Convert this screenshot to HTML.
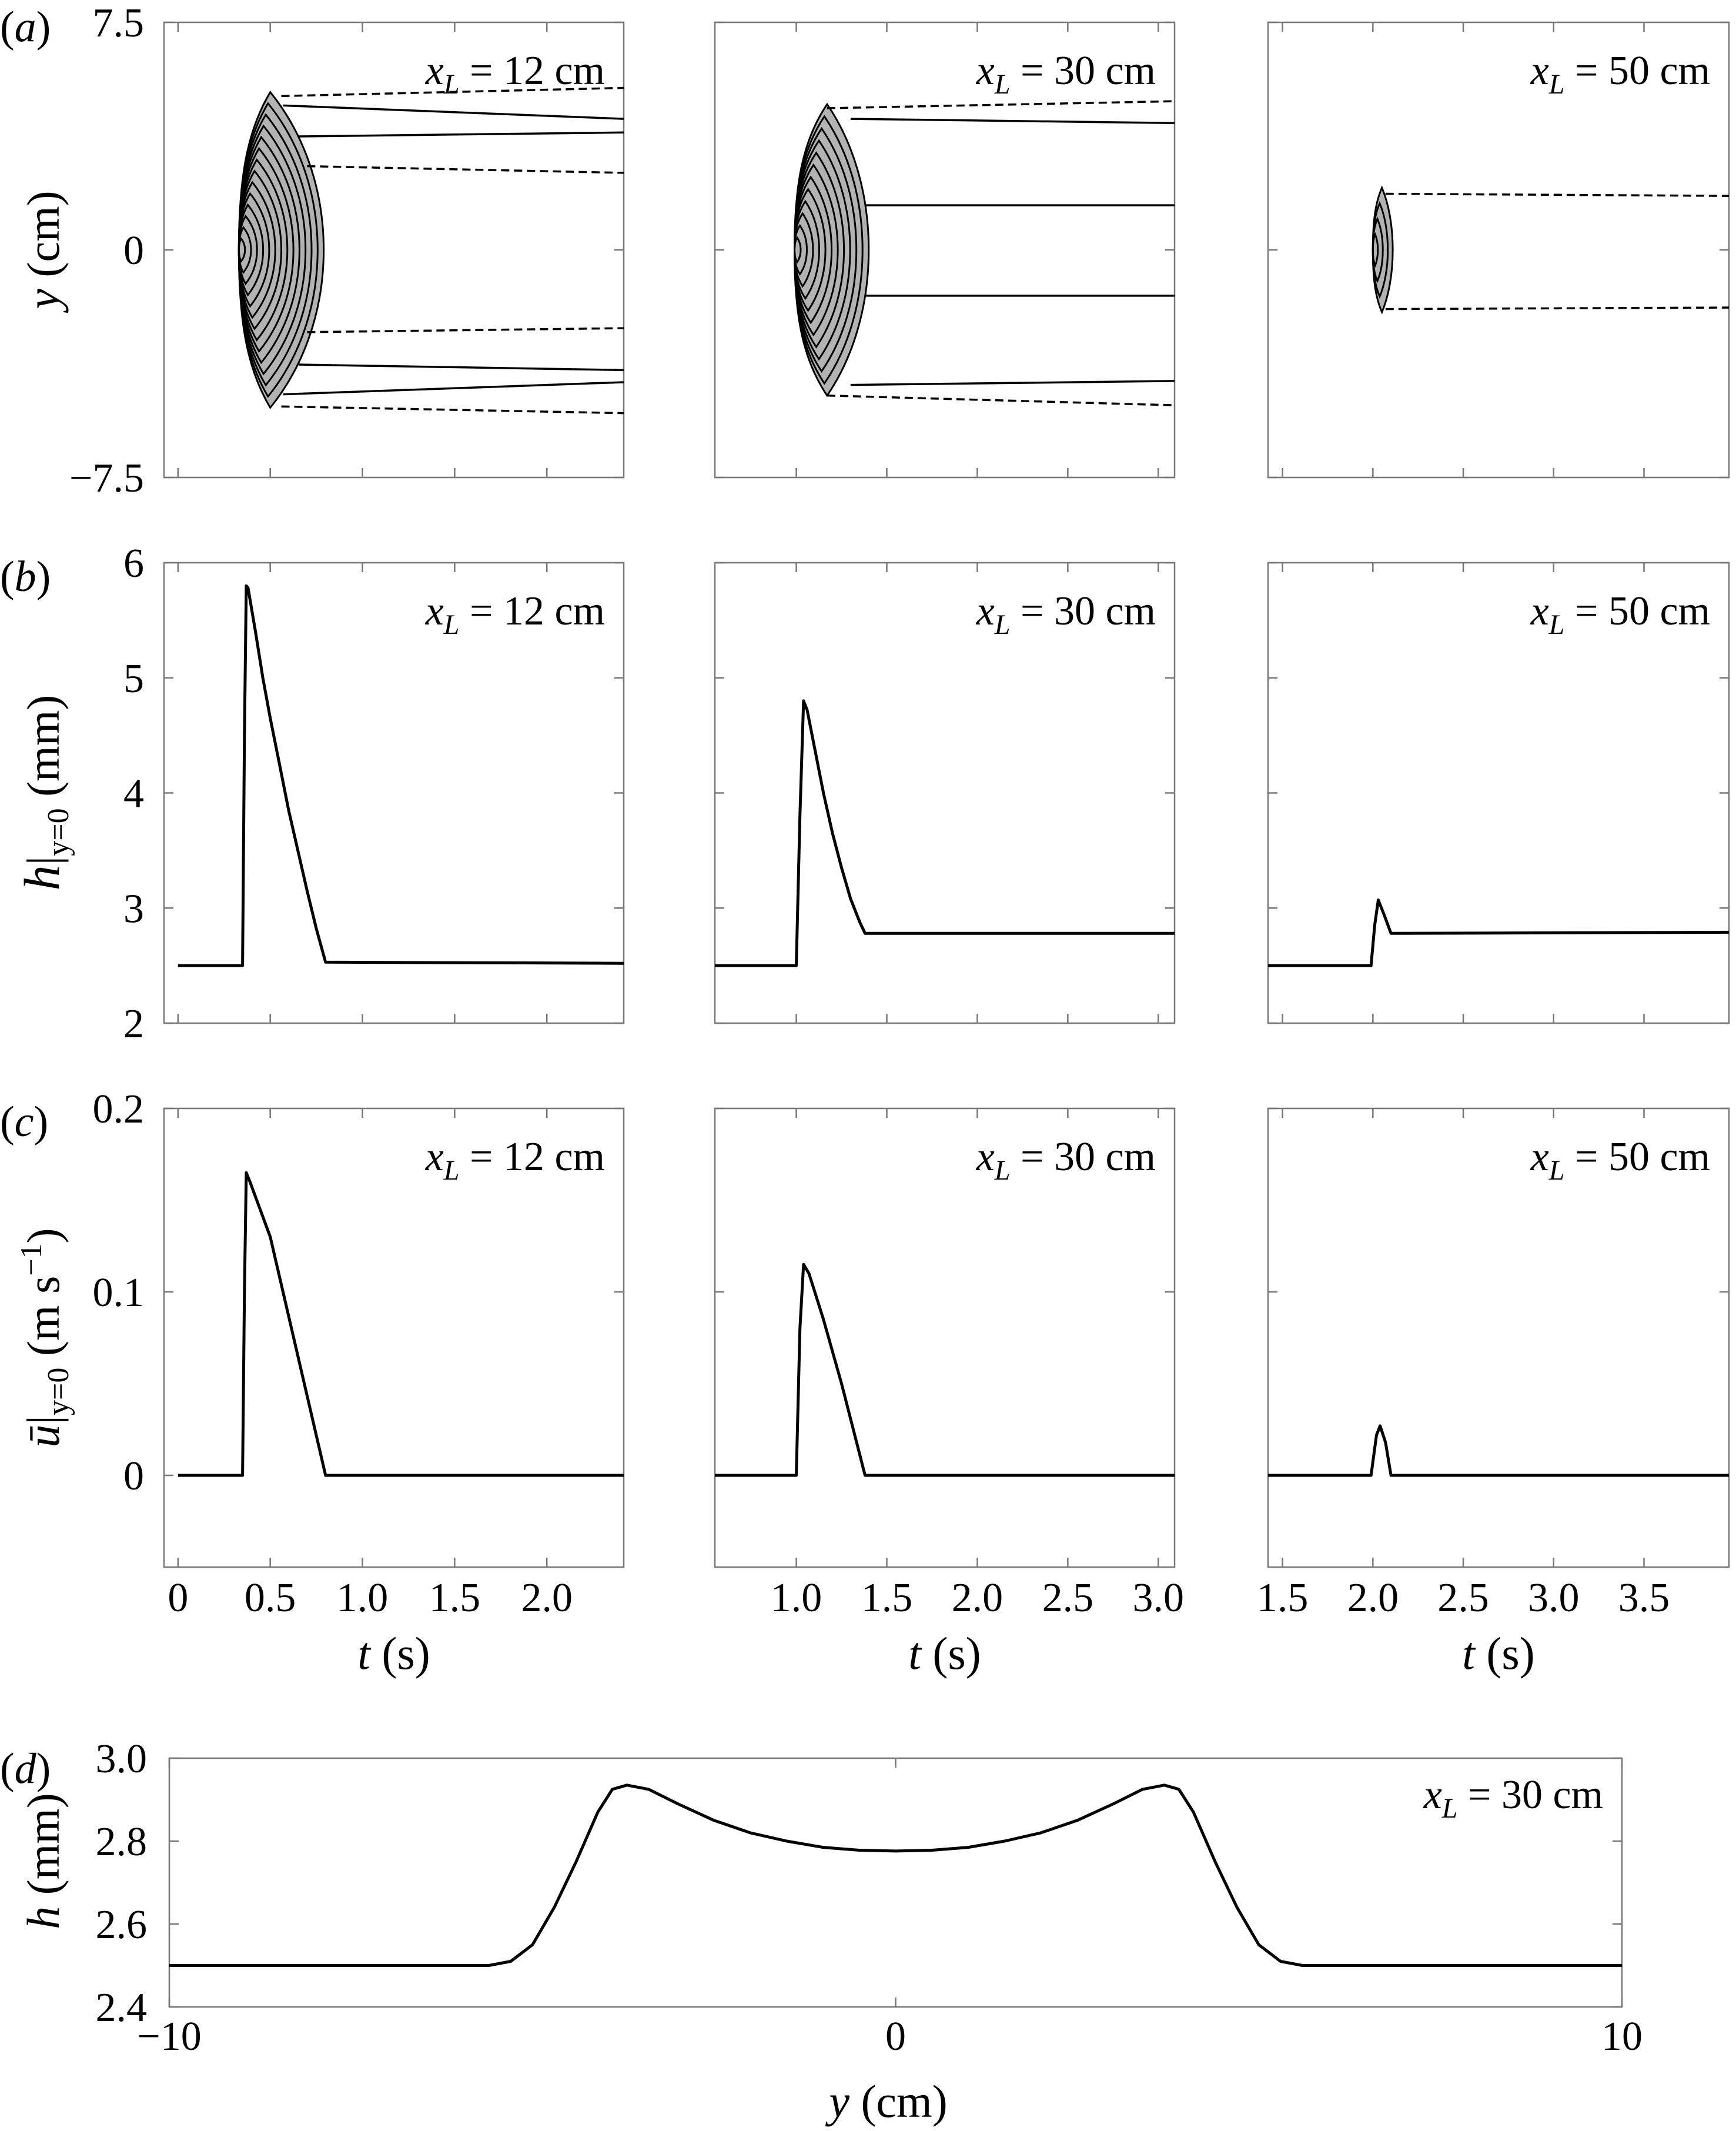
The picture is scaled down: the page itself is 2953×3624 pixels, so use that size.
<!DOCTYPE html>
<html><head><meta charset="utf-8"><style>
html,body{margin:0;padding:0;background:#fff}
svg{display:block}
text,tspan{font-family:"Liberation Serif","DejaVu Serif",serif;fill:#000}
</style></head><body>
<svg id="fig" width="2953" height="3624" viewBox="0 0 2953 3624" font-family="Liberation Serif, serif" xmlns="http://www.w3.org/2000/svg"></svg>
<script>
// ---- data ----
const colTimeDomains=[[-0.076,2.417],[0.55,3.09],[1.42,3.97]];
const colTicks=[[0,0.5,1,1.5,2],[1,1.5,2,2.5,3],[1.5,2,2.5,3,3.5]];
const colTickLabels=[["0","0.5","1.0","1.5","2.0"],["1.0","1.5","2.0","2.5","3.0"],["1.5","2.0","2.5","3.0","3.5"]];
const colValuesL=["12","30","50"];
// row b: h at y=0
const hT1=[0,0.35,0.36,0.37,0.38,0.42,0.46,0.5,0.55,0.6,0.65,0.7,0.75,0.8,2.417];
const hV1=[2.5,2.5,4.5,5.8,5.78,5.4,5.0,4.65,4.25,3.85,3.5,3.15,2.82,2.53,2.52];
const hT2=[0.55,1.0,1.02,1.04,1.06,1.1,1.15,1.2,1.25,1.3,1.35,1.38,3.09];
const hV2=[2.5,2.5,3.8,4.8,4.72,4.4,4.0,3.65,3.35,3.08,2.88,2.78,2.78];
const hT3=[1.42,1.99,2.01,2.03,2.06,2.1,3.97];
const hV3=[2.5,2.5,2.85,3.07,2.95,2.78,2.79];
// row c: u at y=0
const uT1=[0,0.35,0.36,0.37,0.39,0.5,0.8,2.417];
const uV1=[0,0,0.1,0.165,0.16,0.13,0,0];
const uT2=[0.55,1.0,1.02,1.04,1.07,1.15,1.25,1.38,3.09];
const uV2=[0,0,0.08,0.115,0.11,0.085,0.05,0,0];
const uT3=[1.42,1.99,2.02,2.04,2.07,2.1,3.97];
const uV3=[0,0,0.022,0.027,0.018,0,0];
// row d: h profile
const dY=[-10,-5.6,-5.3,-5.0,-4.7,-4.4,-4.1,-3.9,-3.7,-3.4,-3,-2.5,-2,-1.5,-1,-0.5,0,0.5,1,1.5,2,2.5,3,3.4,3.7,3.9,4.1,4.4,4.7,5.0,5.3,5.6,10];
const dH=[2.5,2.5,2.51,2.55,2.64,2.75,2.87,2.925,2.935,2.925,2.89,2.85,2.82,2.8,2.785,2.778,2.776,2.778,2.785,2.8,2.82,2.85,2.89,2.925,2.935,2.925,2.87,2.75,2.64,2.55,2.51,2.5,2.5];
// row a: blob [tLeft, tTop, tRight, halfHeight]
const blobs=[[0.33,0.50,0.79,5.2],[0.99,1.17,1.40,4.8],[2.0,2.05,2.11,2.05]];
const blobRings=[13,11,3];
// streamlines [tStart, yStart, yEnd, dashed]
const lines1=[[0.56,5.07,5.34,1],[0.57,4.76,4.32,0],[0.655,3.74,3.87,0],[0.70,2.76,2.54,1],[0.70,-2.71,-2.58,1],[0.655,-3.78,-3.96,0],[0.57,-4.76,-4.36,0],[0.56,-5.16,-5.38,1]];
const lines2=[[1.17,4.67,4.9,1],[1.3,4.32,4.18,0],[1.38,1.47,1.47,0],[1.38,-1.51,-1.51,0],[1.3,-4.45,-4.32,0],[1.17,-4.8,-5.12,1]];
const lines3=[[2.07,1.85,1.78,1],[2.07,-1.95,-1.9,1]];

// ---- layout ----
const svg=document.getElementById('fig');
const NS='http://www.w3.org/2000/svg';
const colX=[[279,1061],[1216,1998],[2157,2941]];
const rowY={a:[38,812],b:[957,1740],c:[1885,2665]};
function el(tag,attrs,parent){const e=document.createElementNS(NS,tag);for(const k in attrs)e.setAttribute(k,attrs[k]);(parent||svg).appendChild(e);return e;}
function lin(d0,d1,r0,r1){return v=>r0+(v-d0)/(d1-d0)*(r1-r0);}
function pathFrom(xs,ys,fx,fy){return xs.map((x,i)=>(i?'L':'M')+fx(x).toFixed(1)+' '+fy(ys[i]).toFixed(1)).join(' ');}

function frame(x0,x1,y0,y1,xt,yt,g){
  const r=el('rect',{x:x0,y:y0,width:x1-x0,height:y1-y0,fill:'none',stroke:'#777','stroke-width':2.5},g);
  
  
  xt.forEach(x=>{el('line',{x1:x,y1:y1,x2:x,y2:y1-16,stroke:'#777','stroke-width':2.5},g);el('line',{x1:x,y1:y0,x2:x,y2:y0+16,stroke:'#777','stroke-width':2.5},g);});
  yt.forEach(y=>{el('line',{x1:x0,y1:y,x2:x0+16,y2:y,stroke:'#777','stroke-width':2.5},g);el('line',{x1:x1,y1:y,x2:x1-16,y2:y,stroke:'#777','stroke-width':2.5},g);});
}
function annot(x,y,L,g){
  const t=el('text',{x:x,y:y,'text-anchor':'end','font-size':70},g);
  
  
  t.innerHTML='<tspan font-style="italic">x</tspan><tspan font-style="italic" font-size="48" dy="16">L</tspan><tspan dy="-16"> = '+L+'  cm</tspan>';
}

const rowKeys=['a','b','c'];
const rowYDom={a:[-7.5,7.5],b:[2,6],c:[-0.05,0.2]};
const rowYTicks={a:[-7.5,0,7.5],b:[2,3,4,5,6],c:[0,0.1,0.2]};
const rowYTickLabels={a:["\u22127.5","0","7.5"],b:["2","3","4","5","6"],c:["0","0.1","0.2"]};
const hTs=[hT1,hT2,hT3],hVs=[hV1,hV2,hV3],uTs=[uT1,uT2,uT3],uVs=[uV1,uV2,uV3],lineSets=[lines1,lines2,lines3];

rowKeys.forEach(rk=>{
  const [y0,y1]=rowY[rk];
  const fy=lin(rowYDom[rk][0],rowYDom[rk][1],y1,y0);
  for(let c=0;c<3;c++){
    const [x0,x1]=colX[c];
    const fx=lin(colTimeDomains[c][0],colTimeDomains[c][1],x0,x1);
    const g=el('g',{});
    
    
    frame(x0,x1,y0,y1,colTicks[c].map(fx),rowYTicks[rk].map(fy),g);
    if(c===0){
      rowYTicks[rk].forEach((v,i)=>{
        const t=el('text',{x:245,y:fy(v)+24,'text-anchor':'end','font-size':70},g);
        
        
        t.textContent=rowYTickLabels[rk][i];
      });
    }
    if(rk==='c'){
      colTicks[c].forEach((v,i)=>{
        const t=el('text',{x:fx(v),y:2740,'text-anchor':'middle','font-size':70},g);
        
        
        t.textContent=colTickLabels[c][i];
      });
      const xl=el('text',{x:(x0+x1)/2,y:2838,'text-anchor':'middle','font-size':78},g);
      
      
      xl.innerHTML='<tspan font-style="italic">t</tspan> (s)';
    }
    annot(x1-32,y0+105,colValuesL[c],g);
    if(rk==='b'){
      const p=el('path',{d:pathFrom(hTs[c],hVs[c],fx,fy),fill:'none',stroke:'#000','stroke-width':5,'stroke-linejoin':'round'},g);
      
      
    }
    if(rk==='c'){
      const p=el('path',{d:pathFrom(uTs[c],uVs[c],fx,fy),fill:'none',stroke:'#000','stroke-width':5,'stroke-linejoin':'round'},g);
      
      
    }
    if(rk==='a'){
      const [tl,tt,tr,hh]=blobs[c];
      const blobPath=(s)=>{
        const L=tl, T=tl+(tt-tl)*s, R=tl+(tr-tl)*s, H=hh*s;
        const P=(t,y)=>fx(t).toFixed(1)+' '+fy(y).toFixed(1);
        return 'M'+P(T,H)+' C'+P(L+(T-L)*0.25,H*0.75)+' '+P(L,H*0.45)+' '+P(L,0)+' C'+P(L,-H*0.45)+' '+P(L+(T-L)*0.25,-H*0.75)+' '+P(T,-H)+' C'+P(T+(R-T)*0.6,-H*0.75)+' '+P(R,-H*0.4)+' '+P(R,0)+' C'+P(R,H*0.4)+' '+P(T+(R-T)*0.6,H*0.75)+' '+P(T,H)+' Z';
      };
      const b=el('path',{d:blobPath(1),fill:'#b3b3b3',stroke:'#000','stroke-width':3},g);
      
      
      for(let k=1;k<=blobRings[c];k++){
        const s=1-k/(blobRings[c]+1);
        const r=el('path',{d:blobPath(s),fill:'none',stroke:'#000','stroke-width':3},g);
        
        
      }
      lineSets[c].forEach(l=>{
        const ln=el('line',{x1:fx(l[0]),y1:fy(l[1]),x2:x1,y2:fy(l[2]),stroke:'#000','stroke-width':3.5,'stroke-dasharray':l[3]?'14 8':'none'},g);
        
        
      });
    }
  }
});

// row d
const dXTicks=[-10,0,10], dXTickLabels=["\u221210","0","10"];
const dYTicks=[2.4,2.6,2.8,3.0], dYTickLabels=["2.4","2.6","2.8","3.0"];
(function(){
  const x0=288,x1=2759,y0=2990,y1=3413;
  const fx=lin(-10,10,x0,x1), fy=lin(2.4,3.0,y1,y0);
  const g=el('g',{});
  
  
  frame(x0,x1,y0,y1,dXTicks.map(fx),dYTicks.map(fy),g);
  dYTicks.forEach((v,i)=>{
    const t=el('text',{x:250,y:fy(v)+24,'text-anchor':'end','font-size':70},g);
    
    
    t.textContent=dYTickLabels[i];
  });
  dXTicks.forEach((v,i)=>{
    const t=el('text',{x:fx(v),y:3486,'text-anchor':'middle','font-size':70},g);
    
    
    t.textContent=dXTickLabels[i];
  });
  const p=el('path',{d:pathFrom(dY,dH,fx,fy),fill:'none',stroke:'#000','stroke-width':5,'stroke-linejoin':'round'},g);
  
  
  annot(x1-32,y0+85,'30',g);
  const xl=el('text',{x:1511,y:3600,'text-anchor':'middle','font-size':78},g);
  
  
  xl.innerHTML='<tspan font-style="italic">y</tspan> (cm)';
})();

// panel letters & y titles
const letters=[['a',70],['b',1005],['c',1932],['d',3032]];
letters.forEach(l=>{
  const t=el('text',{x:0,y:l[1],'font-size':74});
  
  
  t.innerHTML='(<tspan font-style="italic">'+l[0]+'</tspan>)';
});
const yTitles=[[425,'<tspan font-style="italic">y</tspan> (cm)'],[1348,'<tspan font-style="italic" font-size="86">h</tspan>|<tspan font-size="52" dy="16">y=0</tspan><tspan dy="-16"> (mm)</tspan>'],[2275,'<tspan font-style="italic">ū</tspan>|<tspan font-size="52" dy="16">y=0</tspan><tspan dy="-16"> (m s</tspan><tspan font-size="52" dy="-30">−1</tspan><tspan dy="30">)</tspan>'],[3165,'<tspan font-style="italic">h</tspan> (mm)']];
yTitles.forEach(a=>{
  const t=el('text',{x:0,y:0,'text-anchor':'middle','font-size':78,transform:'translate(100,'+a[0]+') rotate(-90)'});
  
  
  t.innerHTML=a[1];
});
</script>
</body></html>
